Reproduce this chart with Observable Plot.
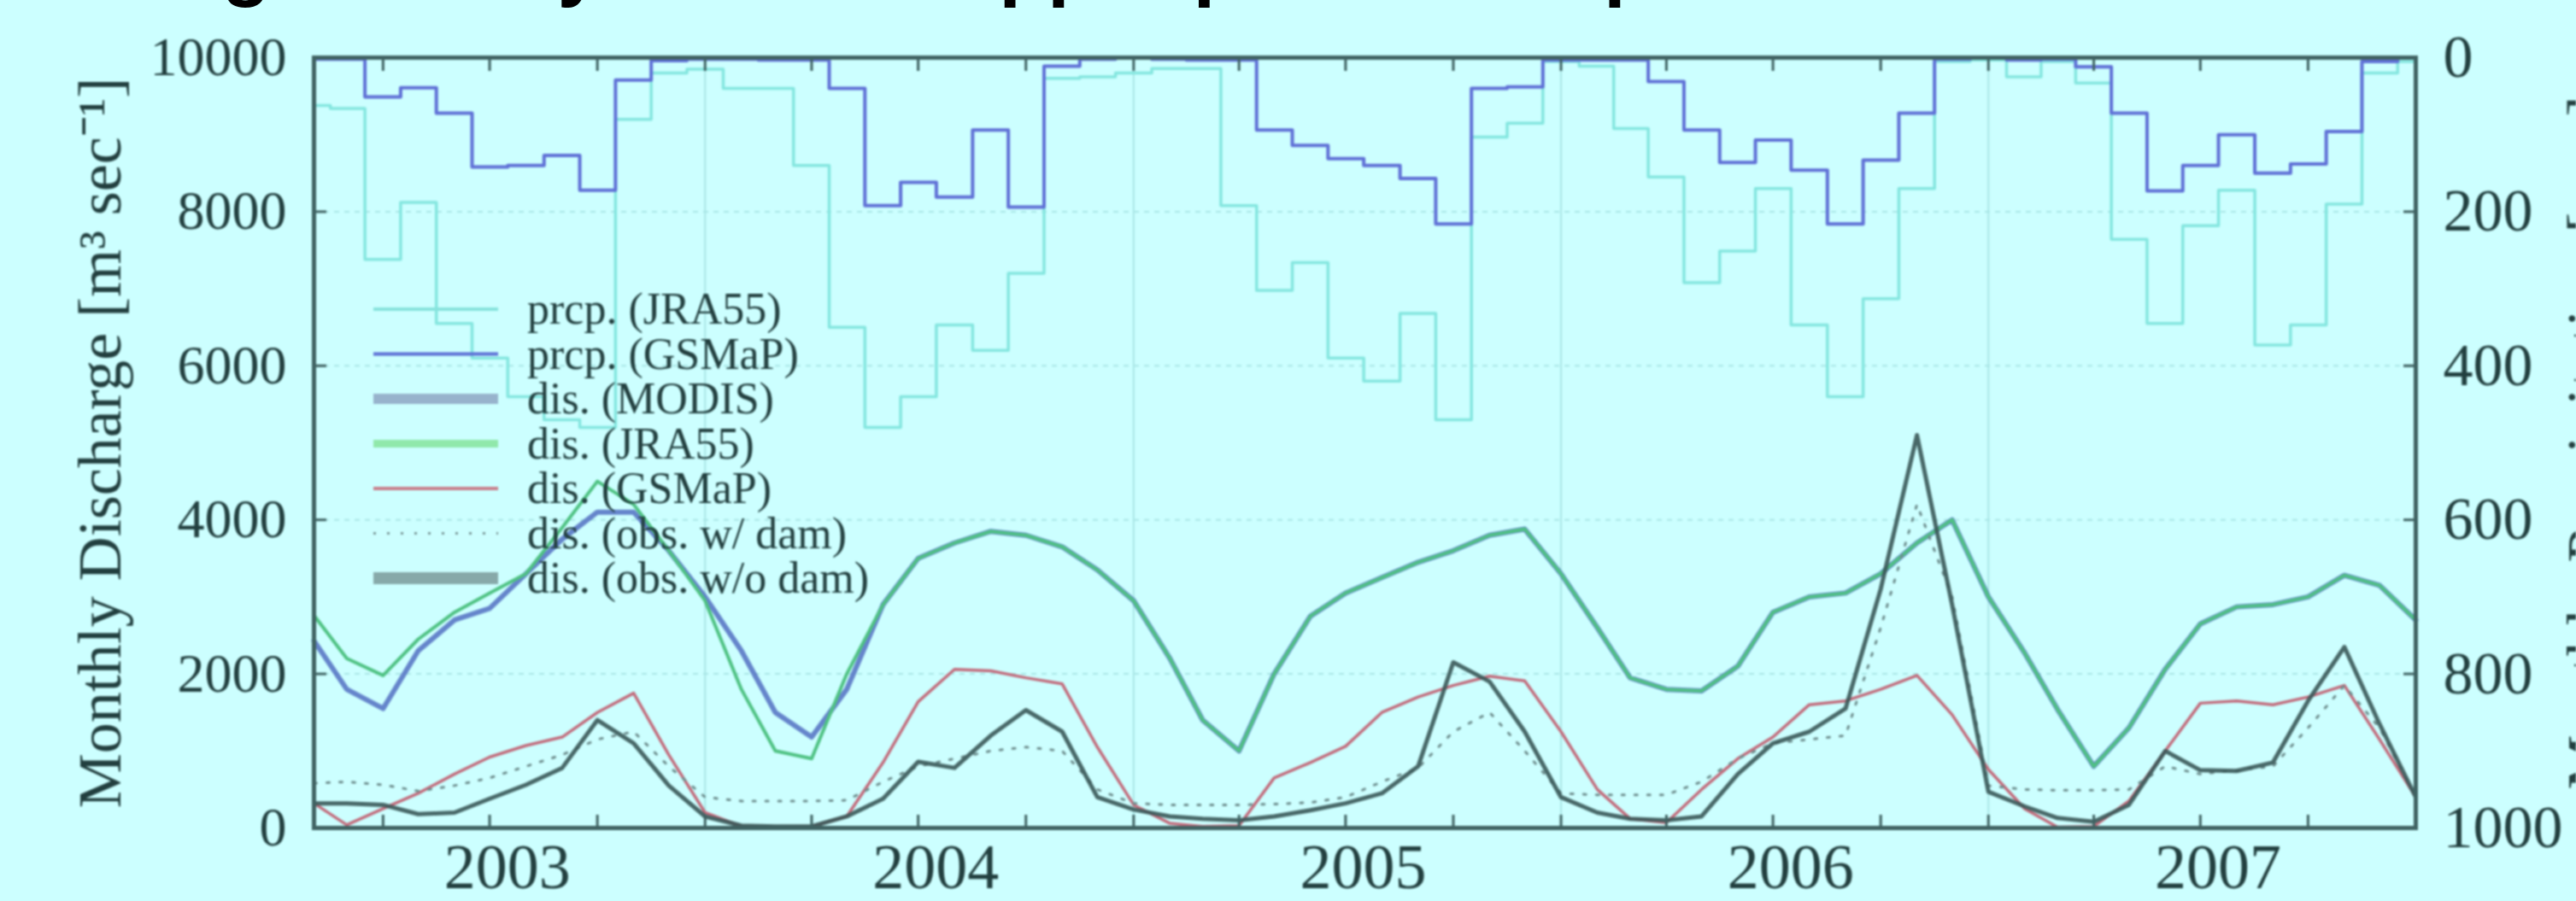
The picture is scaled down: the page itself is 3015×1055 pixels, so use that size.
<!DOCTYPE html>
<html><head><meta charset="utf-8">
<script src="https://cdn.jsdelivr.net/npm/d3@7"></script>
<script src="https://cdn.jsdelivr.net/npm/@observablehq/plot@0.6"></script>
<style>
html,body{margin:0;padding:0;background:#ccffff;}
#wrap{position:relative;width:3015px;height:1055px;overflow:hidden;background:#ccffff;}
#wrap svg.overlay{position:absolute;left:0;top:0;pointer-events:none;}
#wrap .soft{filter:blur(1.3px);}
</style></head><body>
<div id="wrap"></div>
<script>
// ---------- data (monthly, Feb 2003 .. Jan 2008) ----------
const firstMonth = "2003-02-01";
const lastMonth = "2008-01-01";
const yearLabels = [2003, 2004, 2005, 2006, 2007];
const dischargeTicks = [0, 2000, 4000, 6000, 8000, 10000];
const precipTicks = [0, 200, 400, 600, 800, 1000];

const prcpJRA55 = [62,66,262,188,345,390,440,470,480,80,20,15,40,40,140,350,480,440,347,380,280,27,25,20,14,14,192,302,266,390,420,332,470,103,85,5,11,92,155,292,251,170,347,440,313,170,5,3,25,5,33,236,345,218,172,373,347,190,20,5];
const prcpGSMaP = [2,2,51,39,72,142,140,127,172,29,4,2,2,3,3,40,192,162,181,94,194,11,2,0,2,3,3,94,114,131,140,157,216,40,38,3,3,3,31,94,136,107,146,216,133,72,2,0,3,2,12,72,173,140,100,150,138,96,5,0];
const disMODIS = [2430,1800,1550,2300,2700,2850,3300,3750,4100,4100,3600,3000,2300,1500,1180,1800,2900,3500,3700,3850,3800,3650,3350,2950,2200,1400,1000,2000,2750,3050,3250,3450,3600,3800,3880,3300,2600,1950,1800,1780,2100,2800,3000,3050,3300,3700,4000,3000,2270,1540,800,1300,2060,2650,2870,2900,3000,3280,3150,2700];
const disJRA55 = [2760,2200,1980,2450,2800,3050,3300,3900,4500,4200,3600,2950,1800,1000,900,2000,2900,3500,3700,3850,3800,3650,3350,2950,2200,1400,1000,2000,2750,3050,3250,3450,3600,3800,3880,3300,2600,1950,1800,1780,2100,2800,3000,3050,3300,3700,4000,3000,2270,1540,800,1300,2060,2650,2870,2900,3000,3280,3150,2700];
const disGSMaP = [320,40,250,450,700,920,1070,1180,1500,1750,950,200,20,10,20,150,850,1640,2060,2040,1950,1870,1050,300,60,20,30,650,850,1060,1500,1700,1850,1970,1910,1250,500,120,70,500,900,1180,1600,1650,1800,1980,1470,760,250,10,20,350,1000,1620,1650,1600,1700,1850,1150,400];
const obsWithDam = [580,600,560,480,550,650,800,950,1150,1250,800,400,350,350,350,360,600,800,900,1000,1050,1000,500,320,300,300,300,310,330,400,600,780,1250,1500,1000,450,430,430,430,600,900,1100,1150,1200,2600,4200,3000,550,500,490,490,500,800,700,750,800,1300,1850,1300,400];
const obsWithoutDam = [320,320,300,180,200,380,560,780,1400,1100,550,150,30,20,20,150,380,860,780,1200,1530,1250,400,240,150,120,100,150,230,320,450,800,2150,1900,1250,400,200,120,100,150,700,1100,1250,1550,3100,5100,2900,470,280,130,80,300,1000,750,740,850,1650,2350,1350,400];

const seriesNames = ["prcp. (JRA55)","prcp. (GSMaP)","dis. (MODIS)","dis. (JRA55)","dis. (GSMaP)","dis. (obs. w/ dam)","dis. (obs. w/o dam)"];

// ---------- build table ----------
const dates = d3.utcMonth.range(new Date(firstMonth), d3.utcMonth.offset(new Date(lastMonth), 1));
const rows = dates.map((date, i) => ({
  date, pJ: prcpJRA55[i], pG: prcpGSMaP[i], mo: disMODIS[i], dj: disJRA55[i],
  dg: disGSMaP[i], ow: obsWithDam[i], oo: obsWithoutDam[i]
}));
const qMax = 10000, pMax = 1000;
const precipToY = p => qMax * (1 - p / pMax);   // right axis is inverted precipitation
const yearStarts = yearLabels.slice(1).map(y => new Date(Date.UTC(y, 0, 1)));
const yearMids = yearLabels.map(y => new Date(Date.UTC(y, 6, 16)));
const quarterTicks = d3.utcMonth.every(3).range(new Date(firstMonth), new Date(lastMonth));

const txt = "#223f3f";
const serif = "'Liberation Serif','Times New Roman',serif";
const col = {
  pJ: "#84e6df", pG: "#5f70d6", mo: "#5270c2", dj: "#4fc283",
  dg: "#c26c7c", ow: "#6f8f8f", oo: "#3a5858"
};

const plot = Plot.plot({
  width: 3015, height: 1055,
  marginLeft: 367, marginRight: 188, marginTop: 67, marginBottom: 86,
  className: "soft",
  style: {background: "#ccffff", fontFamily: serif, color: txt},
  x: {type: "utc", domain: [new Date(firstMonth), new Date(lastMonth)]},
  y: {domain: [0, qMax]},
  marks: [
    Plot.gridY([2000, 4000, 6000, 8000], {stroke: "#a9e6e6", strokeOpacity: 1, strokeWidth: 2, strokeDasharray: "6,6"}),
    Plot.gridX(yearStarts, {stroke: "#a9e6e6", strokeOpacity: 1, strokeWidth: 2}),
    Plot.line(rows, {x: "date", y: d => precipToY(d.pJ), curve: "step", stroke: col.pJ, strokeWidth: 3.5}),
    Plot.line(rows, {x: "date", y: d => precipToY(d.pG), curve: "step", stroke: col.pG, strokeWidth: 4}),
    Plot.line(rows, {x: "date", y: "mo", stroke: col.mo, strokeWidth: 6, strokeOpacity: 0.85}),
    Plot.line(rows, {x: "date", y: "dj", stroke: col.dj, strokeWidth: 4}),
    Plot.line(rows, {x: "date", y: "dg", stroke: col.dg, strokeWidth: 3.5}),
    Plot.line(rows, {x: "date", y: "ow", stroke: col.ow, strokeWidth: 3, strokeDasharray: "3,12"}),
    Plot.line(rows, {x: "date", y: "oo", stroke: col.oo, strokeWidth: 5, strokeOpacity: 0.9}),
    Plot.frame({stroke: "#3f6262", strokeWidth: 5}),
    Plot.axisY({anchor: "left", ticks: dischargeTicks, tickFormat: d3.format("d"), tickSize: -15, tickPadding: 47, fontSize: 64, label: null, stroke: "#3f6262", strokeWidth: 3, fill: txt}),
    Plot.axisY({anchor: "right", ticks: precipTicks.map(precipToY), tickFormat: v => String(Math.round(pMax * (1 - v / qMax))), tickSize: -15, tickPadding: 47, fontSize: 70, label: null, stroke: "#3f6262", strokeWidth: 3, fill: txt}),
    Plot.axisX({anchor: "bottom", ticks: yearMids, tickFormat: d3.utcFormat("%Y"), tickSize: 0, tickPadding: 18, fontSize: 74, label: null, fill: txt}),
    Plot.axisX({anchor: "bottom", ticks: quarterTicks, tickSize: -15, fill: "none", label: null, stroke: "#3f6262", strokeWidth: 3}),
    Plot.axisX({anchor: "top", ticks: quarterTicks, tickSize: -15, fill: "none", label: null, stroke: "#3f6262", strokeWidth: 3}),
    Plot.text(["Monthly Discharge [m³ sec⁻¹]"], {frameAnchor: "left", textAnchor: "middle", rotate: -90, dx: -250, fontSize: 72, fill: txt}),
    Plot.text(["Monthly Precipitation [mm]"], {frameAnchor: "right", textAnchor: "middle", rotate: -90, dx: 203, fontSize: 72, fill: txt})
  ]
});
const wrap = document.getElementById("wrap");
wrap.appendChild(plot);

// ---------- overlay: legend (inside the frame) ----------
const legendStyle = [
  {stroke: "#86e3dc", width: 4, dash: null},
  {stroke: "#5d70d6", width: 4, dash: null},
  {stroke: "#97b3cc", width: 12, dash: null},
  {stroke: "#90e8aa", width: 9, dash: null},
  {stroke: "#c8808c", width: 4, dash: null},
  {stroke: "#7d9a9a", width: 3, dash: "3,13"},
  {stroke: "#87a9a9", width: 14, dash: null}
];
const lgSvg = d3.select(wrap).append("svg").attr("class", "overlay soft").attr("width", 3015).attr("height", 1055);
seriesNames.forEach((name, i) => {
  const y = 362 + i * 52.5;
  const s = legendStyle[i];
  lgSvg.append("line").attr("x1", 437).attr("x2", 583).attr("y1", y).attr("y2", y)
    .attr("stroke", s.stroke).attr("stroke-width", s.width).attr("stroke-dasharray", s.dash);
  lgSvg.append("text").attr("x", 617).attr("y", y).attr("dy", "0.33em")
    .attr("font-family", serif).attr("font-size", 52).attr("fill", txt).text(name);
});

// ---------- overlay: title cropped above the figure ----------
const ttl = d3.select(wrap).append("svg").attr("class", "overlay").attr("width", 3015).attr("height", 60);
ttl.append("text").attr("x", 17).attr("y", -10)
  .attr("font-family", "'Liberation Sans',Arial,sans-serif").attr("font-weight", "bold").attr("font-size", 93)
  .attr("fill", "#000").text("Strong monthly rise and upper part of the peak flows");
</script></body></html>
